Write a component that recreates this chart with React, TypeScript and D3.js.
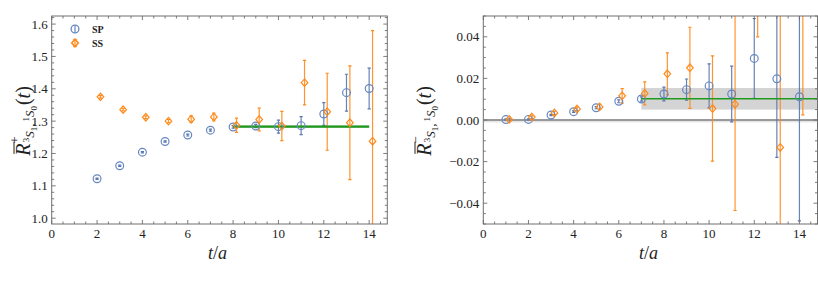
import React, { useEffect, useRef } from 'react';
import * as d3 from 'd3';

const W = 818;
const H = 285;

// t/a values
const tPlus = [2, 3, 4, 5, 6, 7, 8, 9, 10, 11, 12, 13, 14];
const tMinus = [1, 2, 3, 4, 5, 6, 7, 8, 9, 10, 11, 12, 13, 14];
const ssShift = 0.15;

// left panel, R+
const spPlus = [1.122, 1.162, 1.204, 1.237, 1.257, 1.272, 1.282, 1.285, 1.283, 1.286, 1.322, 1.388, 1.401];
const spPlusErr = [0.002, 0.002, 0.002, 0.002, 0.003, 0.003, 0.004, 0.005, 0.02, 0.028, 0.035, 0.057, 0.063];
const ssPlus = [1.375, 1.3355, 1.312, 1.3, 1.306, 1.313, 1.287, 1.305, 1.285, 1.419, 1.329, 1.295, 1.238];
const ssPlusErr = [0.004, 0.004, 0.004, 0.005, 0.01, 0.012, 0.022, 0.035, 0.045, 0.069, 0.119, 0.176, 0.342];

// right panel, R-
const spMinus = [0.0002, 0.0003, 0.0024, 0.004, 0.0059, 0.009, 0.0101, 0.0125, 0.0146, 0.0164, 0.0125, 0.0296, 0.0198, 0.0112];
const spMinusErr = [0.0003, 0.0003, 0.0003, 0.0004, 0.0005, 0.0007, 0.001, 0.0033, 0.0051, 0.0106, 0.0134, 0.0192, 0.0378, 0.0597];
const ssMinus = [0.0003, 0.0014, 0.0034, 0.0053, 0.0063, 0.0116, 0.0128, 0.0222, 0.0251, 0.0055, 0.0076, 0.085, -0.0132, 0.06];
const ssMinusErr = [0.0004, 0.0006, 0.0008, 0.0009, 0.0012, 0.0035, 0.0055, 0.0101, 0.0195, 0.0253, 0.0511, 0.045, 0.07, 0.0575];

// plateau fits [t start, t end, value, error]
const fitPlus = [8, 14, 1.283, 0.004];
const fitMinus = [7, 14.8, 0.0102, 0.0052];

const xTicks = [0, 2, 4, 6, 8, 10, 12, 14];
const yTicksPlus = [1.0, 1.1, 1.2, 1.3, 1.4, 1.5, 1.6];
const yTicksMinus = [-0.04, -0.02, 0, 0.02, 0.04];

const BLUE = '#6687c0';
const BLUE_BAR = '#5877b0';
const ORANGE = '#ff8a1a';
const GREEN = '#1f9a1f';
const FRAME = '#6e6e6e';
const SERIF = 'Liberation Serif, Times New Roman, DejaVu Serif, serif';

const App = () => {
  const ref = useRef(null);

  useEffect(() => {
    const svg = d3.select(ref.current);
    svg.selectAll('*').remove();

    const drawPanel = (cfg) => {
      const x = d3.scaleLinear().domain([0, 14.8]).range([cfg.left, cfg.right]);
      const y = d3.scaleLinear().domain(cfg.yDomain).range([224, 16]);
      const g = svg.append('g');

      g.append('clipPath').attr('id', cfg.id)
        .append('rect')
        .attr('x', cfg.left).attr('y', 16)
        .attr('width', cfg.right - cfg.left).attr('height', 208);

      const plot = g.append('g').attr('clip-path', `url(#${cfg.id})`);

      // fit band and line
      const [f0, f1, fv, fe] = cfg.fit;
      if (cfg.zeroLine) {
        plot.append('rect')
          .attr('x', cfg.left).attr('width', cfg.right - cfg.left)
          .attr('y', y(0.0004)).attr('height', y(-0.0012) - y(0.0004))
          .attr('fill', '#e6e6e6');
      }
      plot.append('rect')
        .attr('x', x(f0)).attr('width', x(f1) - x(f0))
        .attr('y', y(fv + fe)).attr('height', y(fv - fe) - y(fv + fe))
        .attr('fill', cfg.zeroLine ? '#d4d4d4' : '#c9d8c9');
      if (cfg.zeroLine) {
        plot.append('line')
          .attr('x1', cfg.left).attr('x2', cfg.right)
          .attr('y1', y(0)).attr('y2', y(0))
          .attr('stroke', '#4a4a4a').attr('stroke-width', 1.1);
      }

      const series = [
        { t: cfg.t, v: cfg.sp, e: cfg.spErr, dx: 0, color: BLUE, bar: BLUE_BAR, shape: 'circle' },
        { t: cfg.t, v: cfg.ss, e: cfg.ssErr, dx: ssShift, color: ORANGE, bar: ORANGE, shape: 'diamond' },
      ];

      series.forEach((s) => {
        s.t.forEach((t, i) => {
          const cx = x(t + s.dx);
          const y1 = y(s.v[i] + s.e[i]);
          const y2 = y(s.v[i] - s.e[i]);
          plot.append('line')
            .attr('x1', cx).attr('x2', cx).attr('y1', y1).attr('y2', y2)
            .attr('stroke', s.bar).attr('stroke-width', 1.2).attr('opacity', 0.9);
          [y1, y2].forEach((yy) => {
            plot.append('line')
              .attr('x1', cx - 1.6).attr('x2', cx + 1.6).attr('y1', yy).attr('y2', yy)
              .attr('stroke', s.bar).attr('stroke-width', 1.2);
          });
        });
      });

      plot.append('line')
        .attr('x1', x(f0)).attr('x2', x(f1))
        .attr('y1', y(fv)).attr('y2', y(fv))
        .attr('stroke', GREEN).attr('stroke-width', cfg.zeroLine ? 1.6 : 2.4);

      series.forEach((s) => {
        s.t.forEach((t, i) => {
          const cx = x(t + s.dx);
          const cy = y(s.v[i]);
          if (s.shape === 'circle') {
            plot.append('circle')
              .attr('cx', cx).attr('cy', cy).attr('r', 3.9)
              .attr('fill', 'none').attr('stroke', s.color).attr('stroke-width', 1.2);
          } else {
            plot.append('path')
              .attr('d', `M${cx},${cy - 3.8}L${cx + 3.3},${cy}L${cx},${cy + 3.8}L${cx - 3.3},${cy}Z`)
              .attr('fill', 'none').attr('stroke', s.color).attr('stroke-width', 1.2);
          }
        });
      });

      // frame
      g.append('rect')
        .attr('x', cfg.left).attr('y', 16)
        .attr('width', cfg.right - cfg.left).attr('height', 208)
        .attr('fill', 'none').attr('stroke', FRAME).attr('stroke-width', 1);

      const tick = (x1, y1, x2, y2) => g.append('line')
        .attr('x1', x1).attr('y1', y1).attr('x2', x2).attr('y2', y2)
        .attr('stroke', FRAME).attr('stroke-width', 0.9);

      d3.range(0, 14.81, 0.5).forEach((v) => {
        const major = Math.abs(v / 2 - Math.round(v / 2)) < 1e-6;
        const len = major ? 4 : 2.5;
        tick(x(v), 224, x(v), 224 - len);
        tick(x(v), 16, x(v), 16 + len);
      });

      const [yMin, yMax] = cfg.yDomain;
      const n0 = Math.ceil(yMin / cfg.minorStep - 1e-6);
      const n1 = Math.floor(yMax / cfg.minorStep + 1e-6);
      d3.range(n0, n1 + 1).forEach((k) => {
        const v = k * cfg.minorStep;
        const r = v / cfg.majorStep;
        const major = Math.abs(r - Math.round(r)) < 1e-6;
        const len = major ? 4 : 2.5;
        tick(cfg.left, y(v), cfg.left + len, y(v));
        tick(cfg.right, y(v), cfg.right - len, y(v));
      });

      xTicks.forEach((v) => {
        g.append('text')
          .attr('x', x(v)).attr('y', 238)
          .attr('text-anchor', 'middle')
          .attr('font-family', SERIF).attr('font-size', 13)
          .attr('fill', '#222').text(String(v));
      });
      cfg.yTicks.forEach((v) => {
        g.append('text')
          .attr('x', cfg.left - 4).attr('y', y(v) + 4.5)
          .attr('text-anchor', 'end')
          .attr('font-family', SERIF).attr('font-size', 13)
          .attr('fill', '#222').text(cfg.fmt(v));
      });

      // x axis title
      const xt = g.append('text')
        .attr('x', (cfg.left + cfg.right) / 2 - 2).attr('y', 259)
        .attr('text-anchor', 'middle')
        .attr('font-family', SERIF).attr('font-size', 18)
        .attr('fill', '#222');
      xt.append('tspan').attr('font-style', 'italic').text('t');
      xt.append('tspan').text('/');
      xt.append('tspan').attr('font-style', 'italic').text('a');

      // y axis title
      const yg = g.append('g').attr('transform', `translate(${cfg.labelX},121) rotate(-90)`);
      const yt = yg.append('text')
        .attr('x', 0).attr('y', 0)
        .attr('text-anchor', 'middle')
        .attr('font-family', SERIF)
        .attr('fill', '#222');
      const parts = [
        { s: 'R', size: 20, off: 0, it: true },
        { s: cfg.sup, size: 13, off: -11 },
        { s: '3', size: 9, off: -1, dx: -6 },
        { s: 'S', size: 13, off: 4, it: true },
        { s: '1', size: 9, off: 7 },
        { s: ',', size: 13, off: 4 },
        { s: '1', size: 9, off: -1, dx: 2 },
        { s: 'S', size: 13, off: 4, it: true },
        { s: '0', size: 9, off: 7 },
        { s: '(', size: 20, off: 0, dx: 1 },
        { s: 't', size: 20, off: 0, it: true },
        { s: ')', size: 20, off: 0 },
      ];
      let cur = 0;
      parts.forEach((p) => {
        yt.append('tspan')
          .attr('dy', p.off - cur)
          .attr('dx', p.dx || 0)
          .attr('font-size', p.size)
          .attr('font-style', p.it ? 'italic' : 'normal')
          .text(p.s);
        cur = p.off;
      });
      const ext = yt.node().getExtentOfChar(0);
      yg.append('line')
        .attr('x1', ext.x + 2).attr('x2', ext.x + ext.width + 2)
        .attr('y1', -16).attr('y2', -16)
        .attr('stroke', '#222').attr('stroke-width', 1);

      return { x, y, g };
    };

    const left = drawPanel({
      id: 'clipL', left: 51.7, right: 387.3,
      yDomain: [0.982, 1.625], yTicks: yTicksPlus, fmt: (v) => v.toFixed(1),
      majorStep: 0.1, minorStep: 0.02,
      t: tPlus, sp: spPlus, spErr: spPlusErr, ss: ssPlus, ssErr: ssPlusErr,
      fit: fitPlus, zeroLine: false, sup: '+', labelX: 30,
    });

    drawPanel({
      id: 'clipR', left: 483.3, right: 817.5,
      yDomain: [-0.05, 0.05], yTicks: yTicksMinus,
      fmt: (v) => (v < 0 ? '\u2212' : '') + Math.abs(v).toFixed(2),
      majorStep: 0.02, minorStep: 0.005,
      t: tMinus, sp: spMinus, spErr: spMinusErr, ss: ssMinus, ssErr: ssMinusErr,
      fit: fitMinus, zeroLine: true, sup: '\u2212', labelX: 431,
    });

    // legend
    const lg = left.g.append('g');
    const legend = [
      { name: 'SP', color: BLUE, shape: 'circle', y: 29 },
      { name: 'SS', color: ORANGE, shape: 'diamond', y: 43 },
    ];
    legend.forEach((d) => {
      const cx = 75;
      lg.append('line').attr('x1', cx).attr('x2', cx).attr('y1', d.y - 3.5).attr('y2', d.y + 3.5)
        .attr('stroke', d.color).attr('stroke-width', 1.2);
      if (d.shape === 'circle') {
        lg.append('circle').attr('cx', cx).attr('cy', d.y).attr('r', 3.9)
          .attr('fill', 'none').attr('stroke', d.color).attr('stroke-width', 1.3);
      } else {
        lg.append('path')
          .attr('d', `M${cx},${d.y - 3.8}L${cx + 3.3},${d.y}L${cx},${d.y + 3.8}L${cx - 3.3},${d.y}Z`)
          .attr('fill', 'none').attr('stroke', d.color).attr('stroke-width', 1.6);
        [d.y - 3.5, d.y + 3.5].forEach((yy) => {
          lg.append('line').attr('x1', cx - 1.8).attr('x2', cx + 1.8).attr('y1', yy).attr('y2', yy)
            .attr('stroke', d.color).attr('stroke-width', 1.2);
        });
      }
      lg.append('text')
        .attr('x', 92).attr('y', d.y + 3.5)
        .attr('font-family', SERIF).attr('font-size', 10).attr('font-weight', 'bold')
        .attr('fill', '#222').text(d.name);
    });
  }, []);

  return (
    <svg ref={ref} width={W} height={H}
      style={{ position: 'absolute', left: 0, top: 0, background: '#fff' }} />
  );
};

export default App;
